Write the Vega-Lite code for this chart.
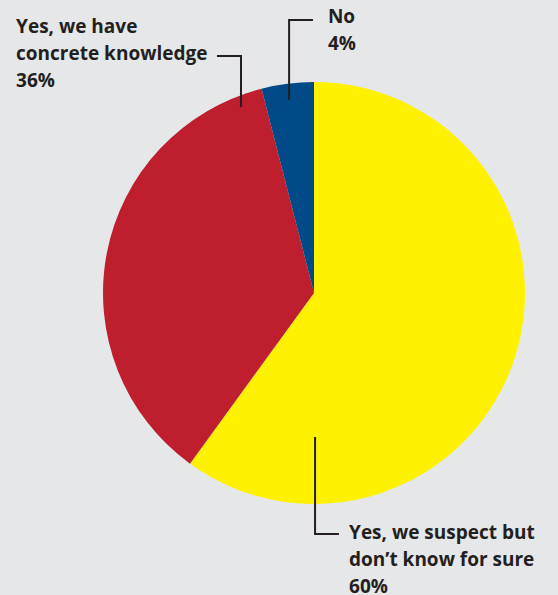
{
  "$schema": "https://vega.github.io/schema/vega-lite/v6.json",
  "width": 422,
  "height": 422,
  "autosize": {"type": "none"},
  "padding": {"left": 103, "top": 82, "right": 33, "bottom": 91},
  "background": "#E6E7E8",
  "config": {"view": {"stroke": null}},
  "datasets": {
    "slices": [
      {"answer": "Yes, we suspect but don’t know for sure", "share": 60, "rank": 1},
      {"answer": "Yes, we have concrete knowledge", "share": 36, "rank": 2},
      {"answer": "No", "share": 4, "rank": 3}
    ],
    "leaders": [
      {"answer": "No", "step": 1, "u": -0.118, "v": 0.915},
      {"answer": "No", "step": 2, "u": -0.118, "v": 1.294},
      {"answer": "No", "step": 3, "u": -0.005, "v": 1.294},
      {"answer": "Concrete", "step": 1, "u": -0.346, "v": 0.882},
      {"answer": "Concrete", "step": 2, "u": -0.346, "v": 1.123},
      {"answer": "Concrete", "step": 3, "u": -0.460, "v": 1.123},
      {"answer": "Suspect", "step": 1, "u": 0.005, "v": -0.682},
      {"answer": "Suspect", "step": 2, "u": 0.005, "v": -1.142},
      {"answer": "Suspect", "step": 3, "u": 0.118, "v": -1.142}
    ],
    "labels": [
      {"text": "No\n4%", "u": 0.066, "v": 1.308},
      {"text": "Yes, we have\nconcrete knowledge\n36%", "u": -1.412, "v": 1.261},
      {"text": "Yes, we suspect but\ndon’t know for sure\n60%", "u": 0.166, "v": -1.137}
    ]
  },
  "layer": [
    {
      "data": {"name": "slices"},
      "mark": {"type": "arc", "outerRadius": 211},
      "encoding": {
        "theta": {"field": "share", "type": "quantitative", "stack": true},
        "order": {"field": "rank", "type": "quantitative"},
        "color": {
          "field": "answer",
          "type": "nominal",
          "legend": null,
          "scale": {
            "domain": ["Yes, we suspect but don’t know for sure", "Yes, we have concrete knowledge", "No"],
            "range": ["#FFF200", "#BE1E2D", "#004A87"]
          }
        }
      }
    },
    {
      "data": {"name": "leaders"},
      "mark": {"type": "line", "color": "#231F20", "strokeWidth": 2, "clip": false},
      "encoding": {
        "x": {"field": "u", "type": "quantitative", "axis": null, "scale": {"domain": [-1, 1], "nice": false, "zero": false}},
        "y": {"field": "v", "type": "quantitative", "axis": null, "scale": {"domain": [-1, 1], "nice": false, "zero": false}},
        "detail": {"field": "answer", "type": "nominal"},
        "order": {"field": "step", "type": "quantitative"}
      }
    },
    {
      "data": {"name": "labels"},
      "mark": {
        "type": "text",
        "align": "left",
        "baseline": "middle",
        "lineBreak": "\n",
        "lineHeight": 27,
        "font": "Open Sans",
        "fontWeight": "bold",
        "fontSize": 19,
        "color": "#231F20",
        "clip": false
      },
      "encoding": {
        "x": {"field": "u", "type": "quantitative", "axis": null, "scale": {"domain": [-1, 1], "nice": false, "zero": false}},
        "y": {"field": "v", "type": "quantitative", "axis": null, "scale": {"domain": [-1, 1], "nice": false, "zero": false}},
        "text": {"field": "text", "type": "nominal"}
      }
    }
  ]
}
